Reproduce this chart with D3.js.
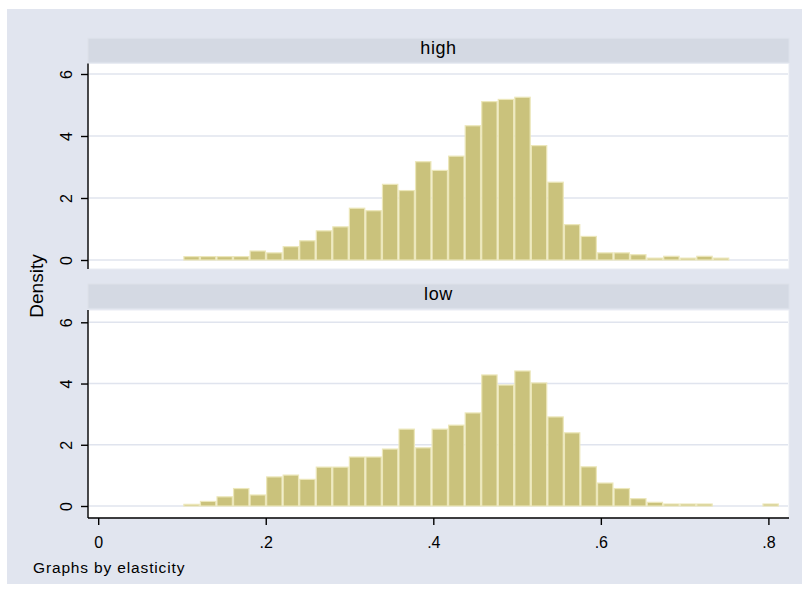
<!DOCTYPE html>
<html><head><meta charset="utf-8">
<script src="https://cdn.jsdelivr.net/npm/d3@7"></script>
<style>
body{margin:0;background:#fff}
svg{display:block}
text{font-family:"Liberation Sans",Arial,Helvetica,sans-serif;fill:#000}
</style>
</head><body>
<svg id="chart" width="809" height="593"></svg>
<script>
// ---- data ----
const panels = ["high", "low"];
const binStart = 0.1016;   // lower edge of first bin
const binWidth = 0.01975;  // common bin width
const highDensity = [0.11,0.11,0.11,0.11,0.29,0.23,0.43,0.62,0.94,1.07,1.67,1.59,2.44,2.24,3.17,2.89,3.35,4.33,5.11,5.18,5.25,3.69,2.51,1.14,0.76,0.23,0.23,0.17,0.06,0.12,0.06,0.12,0.06,0,0,0];
const lowDensity  = [0.054,0.15,0.30,0.57,0.36,0.95,1.01,0.87,1.27,1.27,1.60,1.60,1.86,2.51,1.90,2.51,2.64,3.04,4.28,3.95,4.41,4.02,2.91,2.39,1.28,0.75,0.57,0.24,0.12,0.065,0.065,0.065,0,0,0,0.065];
const xTicks = [0, 0.2, 0.4, 0.6, 0.8];
const xTickLabels = ["0", ".2", ".4", ".6", ".8"];
const yTicks = [0, 2, 4, 6];
const yTickLabels = ["0", "2", "4", "6"];
const yTitle = "Density";
const noteText = "Graphs by elasticity";

// ---- layout ----
const svg = d3.select("#chart");
const plotLeft = 88, plotRight = 789;
const layout = [
  {name: panels[0], values: highDensity, stripTop: 38.3, stripBottom: 62.3, top: 63.5, bottom: 269, y0: 260, y6: 74},
  {name: panels[1], values: lowDensity,  stripTop: 284,  stripBottom: 308.3, top: 310, bottom: 518, y0: 506, y6: 322.3}
];
const colors = {bg: "#e1e5ef", strip: "#d4d9e3", stripEdge: "#dde1ea", grid: "#e0e4ee",
                fill: "#cac27c", outline: "#ece7ba", axis: "#000"};

svg.append("rect").attr("x", 7).attr("y", 9).attr("width", 795).attr("height", 575).attr("fill", colors.bg);

const x = d3.scaleLinear().domain([0, 0.8]).range([98.2, 768.4]);

layout.forEach((p, pi) => {
  const y = d3.scaleLinear().domain([0, 6]).range([p.y0, p.y6]);
  const g = svg.append("g");
  // strip
  g.append("rect").attr("x", plotLeft).attr("y", p.stripTop)
    .attr("width", plotRight - plotLeft).attr("height", p.stripBottom - p.stripTop)
    .attr("fill", colors.strip).attr("stroke", colors.stripEdge).attr("stroke-width", 1);
  g.append("text").attr("x", (plotLeft + plotRight) / 2).attr("y", p.stripBottom - 8.5)
    .attr("text-anchor", "middle").style("font-size", "18px").style("letter-spacing", "0.6px")
    .text(p.name);
  // plot region
  g.append("rect").attr("x", plotLeft).attr("y", p.top)
    .attr("width", plotRight - plotLeft).attr("height", p.bottom - p.top)
    .attr("fill", "#fff").attr("stroke", "#e9ecf3").attr("stroke-width", 1);
  // grid
  g.selectAll(".grid").data(yTicks).enter().append("line")
    .attr("x1", plotLeft + 1).attr("x2", plotRight - 1)
    .attr("y1", d => y(d)).attr("y2", d => y(d))
    .attr("stroke", colors.grid).attr("stroke-width", 1.6);
  // bars
  const bins = p.values.map((v, i) => ({x0: binStart + i * binWidth, x1: binStart + (i + 1) * binWidth, v}))
                       .filter(b => b.v > 0);
  g.selectAll(".bar").data(bins).enter().append("rect")
    .attr("x", d => x(d.x0) + 0.6)
    .attr("width", d => x(d.x1) - x(d.x0) - 1.2)
    .attr("y", d => y(d.v))
    .attr("height", d => y(0) - y(d.v))
    .attr("fill", colors.fill).attr("stroke", colors.outline).attr("stroke-width", 1.2);
  // y axis
  const ya = d3.axisLeft(y).tickValues(yTicks).tickFormat((d, i) => yTickLabels[i]).tickSize(7).tickSizeOuter(0);
  const yg = g.append("g").attr("transform", `translate(${plotLeft},0)`).call(ya);
  yg.select(".domain").remove();
  yg.selectAll(".tick line").attr("stroke", colors.axis).attr("stroke-width", 1.4);
  yg.selectAll(".tick text").attr("x", null).attr("dy", null)
    .attr("transform", "translate(-16,0) rotate(-90)")
    .attr("text-anchor", "middle")
    .style("font-size", "16px").style("font-family", '"Liberation Sans",Arial,sans-serif');
  g.append("line").attr("x1", plotLeft).attr("x2", plotLeft).attr("y1", p.top).attr("y2", p.bottom)
    .attr("stroke", colors.axis).attr("stroke-width", 1.4);
  // x axis on bottom panel only
  if (pi === layout.length - 1) {
    const xa = d3.axisBottom(x).tickValues(xTicks).tickFormat((d, i) => xTickLabels[i]).tickSize(7).tickSizeOuter(0);
    const xg = g.append("g").attr("transform", `translate(0,${p.bottom})`).call(xa);
    xg.select(".domain").remove();
    xg.selectAll(".tick line").attr("stroke", colors.axis).attr("stroke-width", 1.4);
    xg.selectAll(".tick text").attr("y", 30).attr("dy", null)
      .style("font-size", "16px").style("font-family", '"Liberation Sans",Arial,sans-serif');
    g.append("line").attr("x1", plotLeft).attr("x2", plotRight).attr("y1", p.bottom).attr("y2", p.bottom)
      .attr("stroke", colors.axis).attr("stroke-width", 1.4);
  }
});

// y title
svg.append("text").attr("transform", "translate(43,286) rotate(-90)")
  .attr("text-anchor", "middle").style("font-size", "19px").text(yTitle);
// note
svg.append("text").attr("x", 33).attr("y", 573).style("font-size", "15.5px")
  .style("letter-spacing", "0.85px").text(noteText);
</script>
</body></html>
